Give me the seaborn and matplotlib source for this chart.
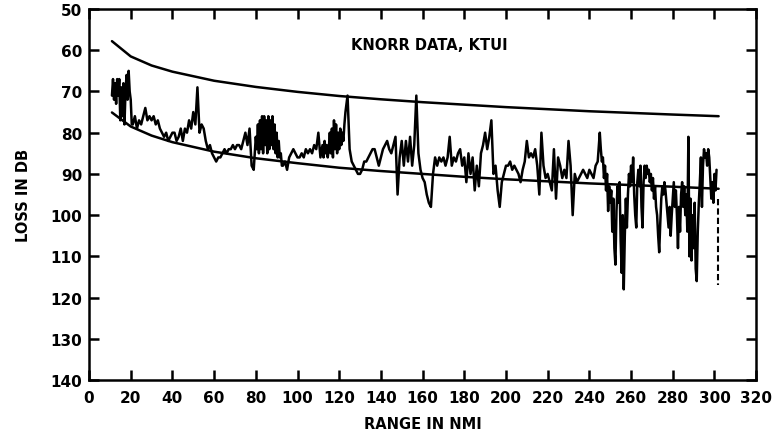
import numpy as np
import pandas as pd
import seaborn as sns
import matplotlib.pyplot as plt

# Curvas de referencia
faixa_curva = [11, 20, 30, 40, 60, 80, 100, 120, 140, 160, 180, 200, 220, 240, 260, 280, 302]
curva_superior = [57.8, 61.5, 63.7, 65.2, 67.4, 68.9, 70.1, 71.1, 71.9, 72.6, 73.2, 73.8, 74.3, 74.8, 75.2, 75.6, 76.0]
curva_inferior = [75.1, 78.5, 80.7, 82.3, 84.6, 86.2, 87.4, 88.5, 89.3, 90.0, 90.7, 91.3, 91.8, 92.3, 92.7, 93.1, 93.6]

# Dados medidos KNORR, por trechos (inicio, passo, valores)
# 11 a 20.5, passo 0.5
perda_a = [71, 67, 72, 68, 73, 67, 71, 67, 77, 69, 76, 68, 78, 70, 66, 72, 65, 70, 72, 78]
# 21 a 79, passo 1
perda_b = [78, 76, 79, 77, 78, 76, 74, 77, 76, 77,
           76, 78, 77, 79, 80, 81, 80, 82, 81, 80,
           80, 82, 81, 79, 82, 79, 80, 77, 79, 75,
           78, 69, 80, 78, 79, 82, 84, 83, 85, 86,
           87, 86, 86, 85, 84, 85, 84, 84, 83, 84,
           83, 83, 84, 82, 80, 83, 79, 88, 89]
# 80 a 92.5, passo 0.5
perda_c = [81, 84, 78, 85, 77, 84, 76, 85, 76, 83, 77, 85, 76, 84, 77, 83, 76, 84, 78, 85,
           80, 86, 82, 86, 85, 88]
# 93 a 111, passo 1
perda_d = [88, 87, 89, 86, 85, 84, 85, 86, 86, 85, 86, 84, 85, 84, 85, 83, 84, 80, 86]
# 112 a 122.5, passo 0.5
perda_e = [83, 86, 82, 85, 83, 86, 84, 80, 85, 79, 86, 77, 84, 78, 85, 80, 84, 79, 83, 80, 82, 78]
# 123 a 244, passo 1
perda_f = [75, 71, 84, 87, 88, 89, 90, 90,
           89, 87, 87, 86, 85, 84, 84, 86, 88, 86,
           84, 83, 82, 84, 85, 83, 81, 95, 86, 82,
           88, 82, 87, 81, 88, 83, 71, 85, 89, 91,
           92, 95, 97, 98, 90, 86, 88, 86, 87, 86,
           88, 86, 81, 88, 86, 87, 85, 84, 88, 86,
           92, 85, 90, 86, 94, 88, 93, 85, 83, 80,
           84, 81, 77, 90, 88, 94, 98, 92, 90, 88,
           88, 87, 89, 88, 89, 90, 92, 89, 87, 82,
           86, 85, 86, 84, 88, 95, 80, 88, 91, 90,
           92, 94, 84, 96, 86, 88, 91, 89, 91, 82,
           88, 100, 90, 92, 91, 90, 89, 90, 91, 89,
           90, 91, 88, 87]
# 245 a 301, passo 0.5
perda_g = [80, 84, 87, 86, 91, 88, 94, 90, 99, 93,
           97, 94, 104, 96, 108, 112, 99, 93, 97, 92,
           106, 114, 100, 118, 105, 96, 103, 95, 90, 93,
           88, 92, 86, 95, 100, 103, 92, 89, 93, 88,
           98, 103, 92, 88, 91, 88, 90, 89, 92, 90,
           94, 91, 96, 93, 98, 100, 105, 109, 102, 96,
           93, 95, 92, 94, 97, 100, 103, 98, 105, 100,
           96, 92, 98, 94, 100, 108, 98, 104, 95, 92,
           98, 93, 100, 95, 104, 81, 110, 96, 111, 100,
           108, 97, 113, 116, 104, 97, 92, 86, 98, 88,
           84, 86, 85, 88, 84, 86, 91, 96, 92, 97,
           90, 94, 89]

trechos = [(11, 0.5, perda_a), (21, 1, perda_b), (80, 0.5, perda_c), (93, 1, perda_d),
           (112, 0.5, perda_e), (123, 1, perda_f), (245, 0.5, perda_g)]

# Pedaco tracejado isolado no fim
faixa_fim = [301.7, 301.7]
perda_fim = [96, 117]

faixa_dados = np.concatenate([ini + passo * np.arange(len(v)) for ini, passo, v in trechos])
perda = np.concatenate([v for _, _, v in trechos])

sns.set_theme(style="ticks")
plt.rcParams['font.family'] = ['DejaVu Sans']
plt.rcParams['font.weight'] = 'bold'
plt.rcParams['text.color'] = 'black'
plt.rcParams['axes.labelcolor'] = 'black'

fig = plt.figure(figsize=(7.83, 4.35), dpi=100)
ax = fig.add_axes([0.1137, 0.124, 0.852, 0.853])

df_curvas = pd.DataFrame({'faixa': faixa_curva, 'sup': curva_superior, 'inf': curva_inferior})
df_dados = pd.DataFrame({'faixa': faixa_dados, 'perda': perda})

sns.lineplot(data=df_curvas, x='faixa', y='sup', color='black', linewidth=1.8, ax=ax)
sns.lineplot(data=df_curvas, x='faixa', y='inf', color='black', linewidth=1.8, ax=ax)
sns.lineplot(data=df_dados, x='faixa', y='perda', color='black', linewidth=1.8,
             estimator=None, sort=False, ax=ax)
ax.plot(faixa_fim, perda_fim, color='black', linewidth=1.5, linestyle=(0, (3, 1.5)))

ax.set_xlim(0, 320)
ax.set_ylim(140, 50)
ax.set_xticks(np.arange(0, 321, 20))
ax.set_yticks(np.arange(50, 141, 10))
ax.tick_params(direction='in', length=7, width=1.8, top=True, right=True,
               labelsize=11, pad=5, colors='black')
ax.tick_params(axis='x', pad=7)
for lbl in ax.get_xticklabels() + ax.get_yticklabels():
    lbl.set_fontweight('bold')
for s in ax.spines.values():
    s.set_linewidth(1.8)
    s.set_color('black')

ax.set_xlabel('RANGE IN NMI', fontsize=10.5, fontweight='bold', labelpad=8, color='black')
ax.set_ylabel('LOSS IN DB', fontsize=10.5, fontweight='bold', labelpad=14, color='black')
ax.text(163, 58.5, 'KNORR DATA, KTUI', fontsize=10.5, fontweight='bold', ha='center', va='center',
        color='black')

plt.savefig('out.png', dpi=100)
